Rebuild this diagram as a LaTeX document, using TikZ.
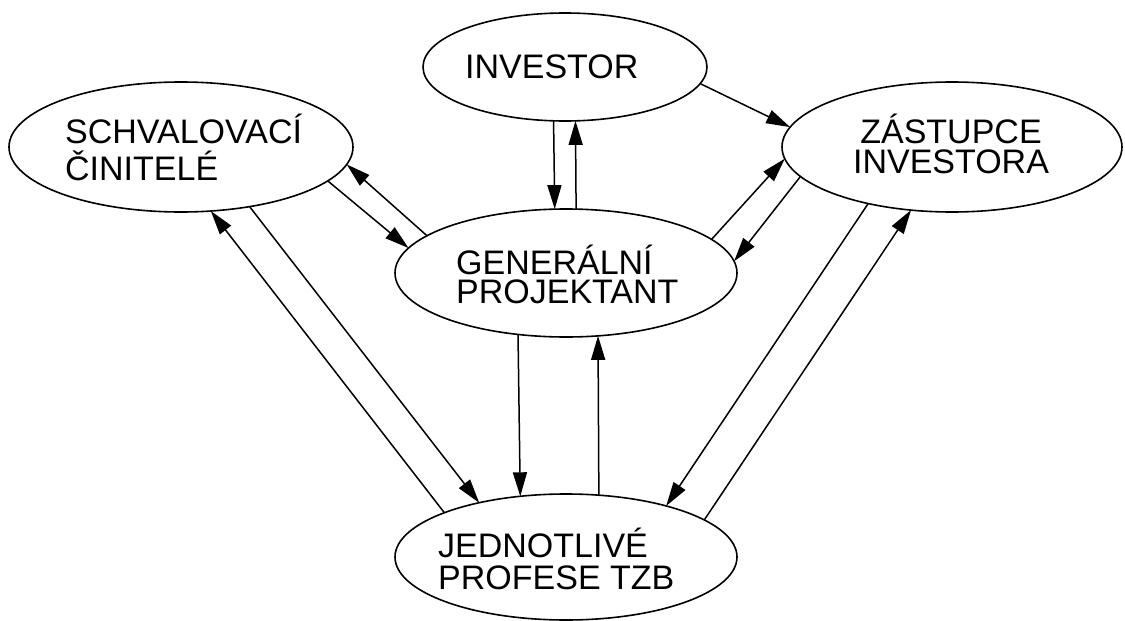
\documentclass[tikz,border=0pt]{standalone}
\usepackage{fontspec}
\setmainfont{Liberation Sans}
\usetikzlibrary{arrows.meta,shapes.geometric}
\begin{document}
\begin{tikzpicture}[x=1pt,y=-1pt,
  ell/.style={ellipse, draw, line width=1.6pt, inner sep=0pt, outer sep=0pt},
  lbl/.style={anchor=base west, inner sep=0pt, align=left},
  conn/.style={line width=1.5pt, -{Triangle[length=24pt,width=14pt]}}]
\useasboundingbox[fill=white] (0,0) rectangle (1125,621);
% ellipses
\node[ell, minimum width=284pt, minimum height=108pt] (inv) at (565,67) {};
\node[ell, minimum width=344pt, minimum height=130pt] (sc) at (181,147) {};
\node[ell, minimum width=340pt, minimum height=130pt] (zi) at (952,147) {};
\node[ell, minimum width=342pt, minimum height=128pt] (gp) at (566,273) {};
\node[ell, minimum width=342pt, minimum height=126pt] (jp) at (566,557) {};
% labels (base anchor = baseline of the last line)
\node[lbl, font=\fontsize{34}{30}\selectfont] (invT) at (465,78) {INVESTOR};
\node[lbl, font=\fontsize{34}{37}\selectfont] (scT) at (65,180) {SCHVALOVACÍ\\ČINITELÉ};
\node[lbl, font=\fontsize{34}{30}\selectfont, align=center, anchor=base] (ziT) at (951,173) {ZÁSTUPCE\\INVESTORA};
\node[lbl, font=\fontsize{34}{29}\selectfont] (gpT) at (456,303) {GENERÁLNÍ\\PROJEKTANT};
\node[lbl, font=\fontsize{34}{32}\selectfont] (jpT) at (438,589) {JEDNOTLIVÉ\\PROFESE TZB};
% connectors
\draw[conn] (inv.258.45) -- (gp.100.65);
\draw[conn] (gp.81.10) -- (inv.281.55);
\draw[conn] (inv.-7.43) -- (zi.173.74);
\draw[conn] (sc.-13.39) -- (gp.171.77);
\draw[conn] (gp.165.20) -- (sc.-6.26);
\draw[conn] (gp.13.02) -- (zi.184.79);
\draw[conn] (zi.191.89) -- (gp.4.48);
\draw[conn] (sc.-41.0) -- (jp.148.47);
\draw[conn] (jp.160.46) -- (sc.-65.62);
\draw[conn] (gp.232.63) -- (jp.127.81);
\draw[conn] (jp.62.65) -- (gp.-63.03);
\draw[conn] (zi.214.62) -- (jp.27.98);
\draw[conn] (jp.15.83) -- (zi.237.59);
\end{tikzpicture}
\end{document}
